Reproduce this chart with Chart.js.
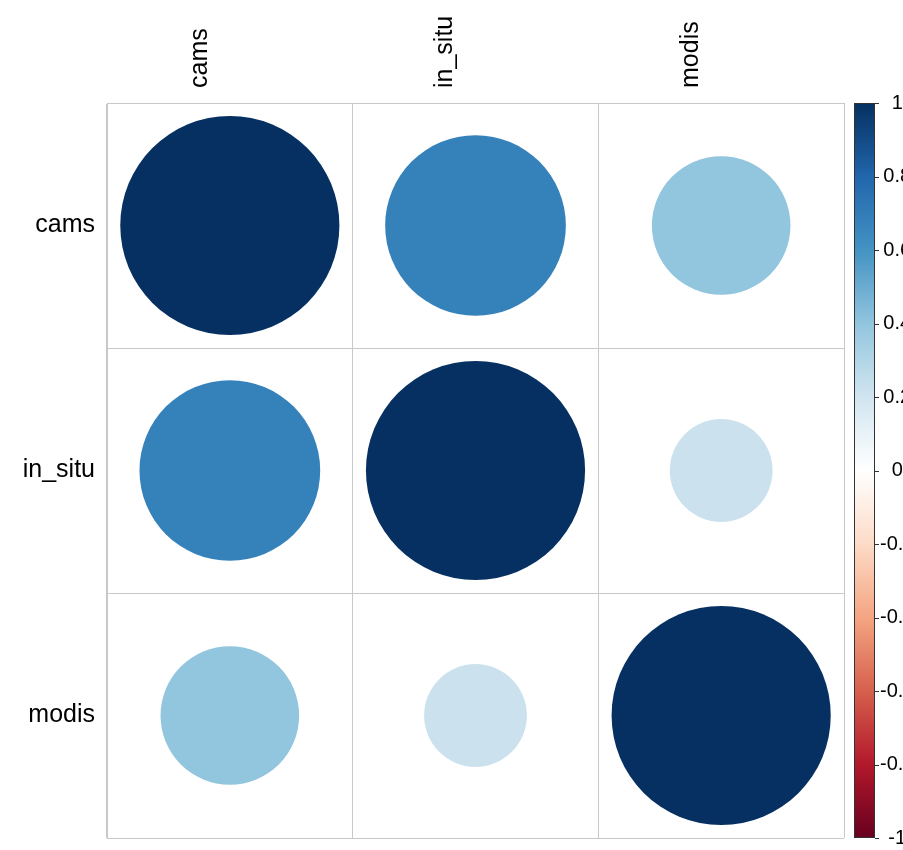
<!DOCTYPE html>
<html>
<head>
<meta charset="utf-8">
<script src="https://cdn.jsdelivr.net/npm/chart.js@4/dist/chart.umd.min.js"></script>
<style>
    html, body { margin: 0; padding: 0; background: #ffffff; overflow: hidden; }
    #wrap { width: 903px; height: 850px; overflow: hidden; }
</style>
</head>
<body>
<div id="wrap"><canvas id="myChart" width="915" height="850"></canvas></div>
<script>
// variables de la matriz
var vars = ["cams", "in_situ", "modis"];

// correlaciones por fila
var corrCams = [1, 0.68, 0.40];
var corrInSitu = [0.68, 1, 0.22];
var corrModis = [0.40, 0.22, 1];

// etiquetas de la barra de color
var barTicks = [1, 0.8, 0.6, 0.4, 0.2, 0, -0.2, -0.4, -0.6, -0.8, -1];

// paleta RdBu (de -1 a 1)
var palette = ["#67001F", "#B2182B", "#D6604D", "#F4A582", "#FDDBC7", "#FFFFFF",
    "#D1E5F0", "#92C5DE", "#4393C3", "#2166AC", "#053061"];

let colorFor = (v) => {
    var t = (v + 1) / 2 * (palette.length - 1);
    var i = Math.min(Math.floor(t), palette.length - 2);
    var f = t - i;
    var a = parseInt(palette[i].slice(1), 16);
    var b = parseInt(palette[i + 1].slice(1), 16);
    var r = Math.round(((a >> 16) & 255) * (1 - f) + ((b >> 16) & 255) * f);
    var g = Math.round(((a >> 8) & 255) * (1 - f) + ((b >> 8) & 255) * f);
    var bl = Math.round((a & 255) * (1 - f) + (b & 255) * f);
    return "rgb(" + r + "," + g + "," + bl + ")";
};

var rows = [corrCams, corrInSitu, corrModis];
var points = [];
rows.forEach((row, i) => {
    row.forEach((v, j) => {
        points.push({ x: vars[j], y: vars[i], v: v });
    });
});

// radio del círculo según el tamaño de la celda (area ~ |r|)
let cellRadius = (c) => {
    if (!c.raw) return 0;
    const area = c.chart.chartArea;
    if (!area) return 0;
    const cell = (area.right - area.left) / vars.length;
    return Math.sqrt(Math.abs(c.raw.v)) * cell * 0.446;
};

let cellColor = (c) => (c.raw ? colorFor(c.raw.v) : "#ffffff");

// barra de color dibujada con la escala "cb"
const colorBar = {
    id: "colorBar",
    afterDraw(chart) {
        const ctx = chart.ctx;
        const s = chart.scales.cb;
        const x0 = chart.chartArea.right + 10;
        const w = 21;
        const yTop = s.getPixelForValue(1);
        const yBot = s.getPixelForValue(-1);
        const grad = ctx.createLinearGradient(0, yBot, 0, yTop);
        palette.forEach((c, k) => grad.addColorStop(k / (palette.length - 1), c));
        ctx.save();
        ctx.fillStyle = grad;
        ctx.fillRect(x0, yTop, w, yBot - yTop);
        ctx.strokeStyle = "#333333";
        ctx.lineWidth = 1;
        ctx.strokeRect(x0 + 0.5, yTop + 0.5, w - 1, yBot - yTop - 1);
        ctx.beginPath();
        barTicks.forEach((t) => {
            const y = Math.round(s.getPixelForValue(t)) + 0.5;
            ctx.moveTo(x0 + w, y);
            ctx.lineTo(x0 + w + 4, y);
        });
        ctx.stroke();
        ctx.restore();
    }
};

const data = {
    datasets: [{
        xAxisID: "x",
        yAxisID: "y",
        data: points,
        showLine: false,
        pointRadius: cellRadius,
        pointHoverRadius: cellRadius,
        pointBackgroundColor: cellColor,
        pointHoverBackgroundColor: cellColor,
        pointBorderWidth: 0,
        pointHoverBorderWidth: 0
    }]
};

// quitar el relleno extra que agregan las etiquetas verticales
let noPad = (s) => { s.paddingTop = 0; s.paddingBottom = 0; };

const config = {
    type: "scatter",
    data: data,
    plugins: [colorBar],
    options: {
        responsive: false,
        animation: false,
        events: [],
        layout: { padding: { top: 0, left: 0, right: 0, bottom: 12 } },
        plugins: { legend: { display: false }, tooltip: { enabled: false } },
        scales: {
            x: {
                type: "category",
                labels: vars,
                position: "top",
                offset: true,
                grid: { offset: true, color: "#c8c8c8", drawTicks: false },
                border: { color: "#c8c8c8" },
                ticks: {
                    minRotation: 90, maxRotation: 90, padding: 15,
                    color: "#000000",
                    font: { family: "Liberation Sans", size: 25 }
                },
                afterFit: (s) => { s.height = 103; }
            },
            y: {
                type: "category",
                labels: vars,
                position: "left",
                offset: true,
                grid: { offset: true, color: "#c8c8c8", drawTicks: false },
                border: { color: "#c8c8c8" },
                ticks: {
                    padding: 12,
                    color: "#000000",
                    font: { family: "Liberation Sans", size: 25 }
                },
                afterFit: (s) => { s.width = 107; noPad(s); }
            },
            cb: {
                type: "linear",
                position: "right",
                min: -1,
                max: 1,
                grid: { display: false, drawTicks: false },
                border: { display: false },
                afterBuildTicks: (s) => { s.ticks = barTicks.map((t) => ({ value: t })); },
                ticks: {
                    padding: 36,
                    crossAlign: "center",
                    color: "#000000",
                    font: { family: "Liberation Sans", size: 20 },
                    callback: (v) => (Math.round(v * 10) / 10).toString()
                },
                afterFit: (s) => { s.width = 71; noPad(s); }
            }
        }
    }
};

const ctx = document.getElementById("myChart").getContext("2d");
let myChart = new Chart(ctx, config);
</script>
</body>
</html>
